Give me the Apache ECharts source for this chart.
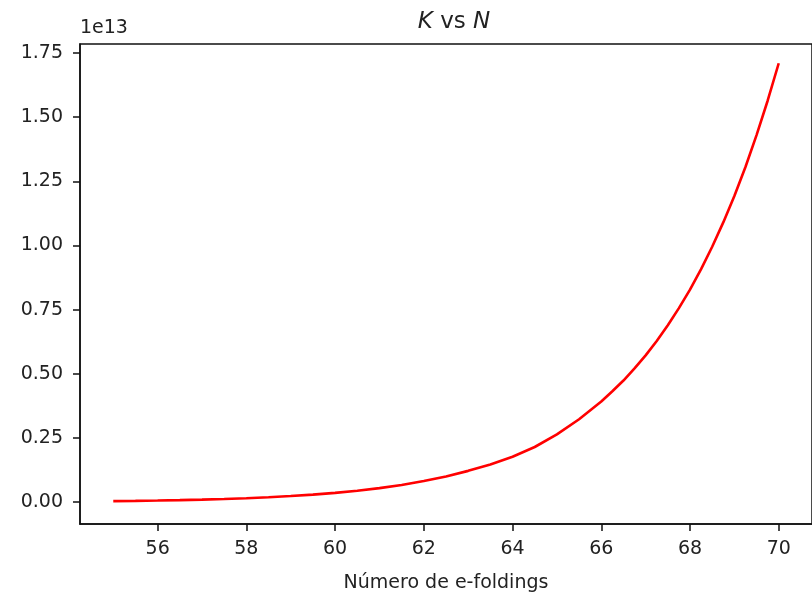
<!DOCTYPE html>
<html>
<head>
<meta charset="utf-8">
<script src="https://cdn.jsdelivr.net/npm/echarts@6/dist/echarts.min.js"></script>
<style>html,body{margin:0;padding:0;background:#fff;}#c{width:812px;height:600px;}</style>
</head>
<body>
<div id="c"></div>
<script>
// N (number of e-foldings)
const nValues = [55, 55.5, 56, 56.5, 57, 57.5, 58, 58.5, 59, 59.5, 60, 60.5, 61, 61.5, 62, 62.5, 63, 63.5, 64, 64.5, 65, 65.5, 66, 66.25, 66.5, 66.75, 67, 67.25, 67.5, 67.75, 68, 68.25, 68.5, 68.75, 69, 69.25, 69.5, 69.75, 70];
// K in units of 1e13
const kValues = [0.0041, 0.0052, 0.0065, 0.0081, 0.0101, 0.0125, 0.0155, 0.0193, 0.0238, 0.0294, 0.0362, 0.0446, 0.0548, 0.0672, 0.0823, 0.1000, 0.1220, 0.1470, 0.1770, 0.2150, 0.2640, 0.3230, 0.3920, 0.4320, 0.4740, 0.5210, 0.5720, 0.6280, 0.6890, 0.7560, 0.8280, 0.9080, 0.9950, 1.0900, 1.1930, 1.3060, 1.4300, 1.5640, 1.7100];
const xTicks = [56, 58, 60, 62, 64, 66, 68, 70];
const yTicks = [0, 0.25, 0.5, 0.75, 1.0, 1.25, 1.5, 1.75];

const font = 'DejaVu Sans';
const chart = echarts.init(document.getElementById('c'), null, {renderer: 'canvas'});
chart.setOption({
  animation: false,
  backgroundColor: '#fff',
  title: {
    text: '{i|K} vs {i|N}',
    left: 449, top: 6, textAlign: 'center',
    textStyle: {
      fontFamily: font, fontSize: 23, fontWeight: 'normal', color: '#222',
      rich: { i: { fontFamily: font, fontStyle: 'italic', fontSize: 23, color: '#222' } }
    }
  },
  graphic: [{
    type: 'text', left: 80, top: 19,
    style: { text: '1e13', fontFamily: font, fontSize: 19, fill: '#222' }
  }],
  grid: { left: 80, top: 44, width: 743, height: 480, show: true, borderColor: '#111', borderWidth: 1.5, backgroundColor: 'transparent' },
  xAxis: {
    type: 'value', min: 54.25, max: 70.75,
    name: 'Número de e-foldings', nameLocation: 'middle', nameGap: 50,
    nameTextStyle: { fontFamily: font, fontSize: 19, color: '#222' },
    axisLine: { show: true, onZero: false, lineStyle: { color: '#111', width: 1.5 } },
    axisTick: { show: true, length: 7, customValues: xTicks, lineStyle: { color: '#111', width: 1.5 } },
    axisLabel: { customValues: xTicks, fontFamily: font, fontSize: 19, color: '#222', margin: 16 },
    splitLine: { show: false }
  },
  yAxis: {
    type: 'value', min: -0.085, max: 1.785,
    axisLine: { show: true, onZero: false, lineStyle: { color: '#111', width: 1.5 } },
    axisTick: { show: true, length: 7, customValues: yTicks, lineStyle: { color: '#111', width: 1.5 } },
    axisLabel: { customValues: yTicks, fontFamily: font, fontSize: 19, color: '#222', margin: 17,
      formatter: v => v.toFixed(2) },
    splitLine: { show: false }
  },
  series: [{
    type: 'line',
    data: nValues.map((n, i) => [n, kValues[i]]),
    showSymbol: false, symbol: 'none',
    smooth: false,
    lineStyle: { color: '#ff0000', width: 2.6 },
    clip: false
  }]
});
</script>
</body>
</html>
